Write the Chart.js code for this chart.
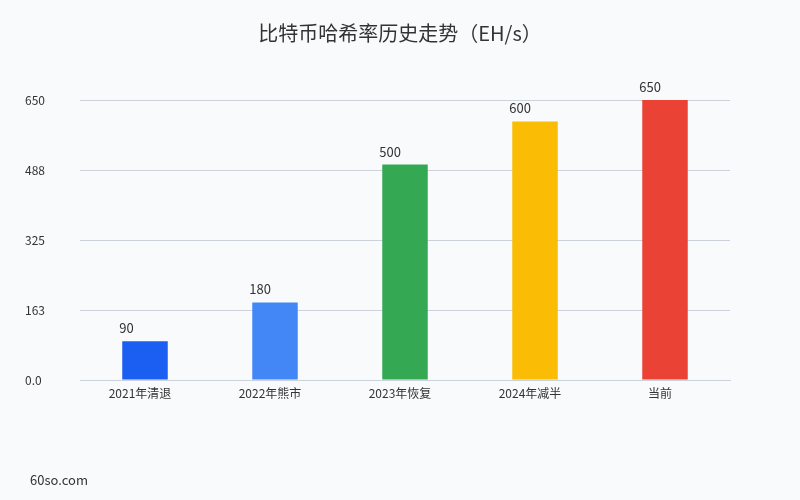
<!DOCTYPE html>
<html>
<head>
<meta charset="utf-8">
<script src="https://cdn.jsdelivr.net/npm/chart.js@4"></script>
<style>
  html, body { margin:0; padding:0; background:#f8fafc; }
  #wrap { width:800px; height:500px; position:relative; }
</style>
</head>
<body>
<div id="wrap"><canvas id="hashChart" width="800" height="500"></canvas></div>
<script>
const labels = ["2021年清退", "2022年熊市", "2023年恢复", "2024年减半", "当前"];
const hashRate = [90, 180, 500, 600, 650];
const barColors = ["#1a5ef2", "#4287f5", "#34a853", "#fbbc05", "#ea4335"];
const yTicks = [0, 162.5, 325, 487.5, 650];

const FONT = "'Noto Sans CJK SC', 'Noto Sans', sans-serif";

// value labels above each bar (start just left of the bar's left edge)
const valueLabels = {
  id: "valueLabels",
  afterDatasetsDraw(chart){
    const ctx = chart.ctx;
    const meta = chart.getDatasetMeta(0);
    ctx.save();
    ctx.font = "13px " + FONT;
    ctx.fillStyle = "#333";
    ctx.textAlign = "left";
    ctx.textBaseline = "middle";
    meta.data.forEach((bar, i) => {
      ctx.fillText(String(hashRate[i]), bar.x - bar.width / 2 - 3, bar.y - 13);
    });
    ctx.restore();
  }
};

// title centred on the page + footer text
const pageText = {
  id: "pageText",
  afterDraw(chart){
    const ctx = chart.ctx;
    ctx.save();
    ctx.fillStyle = "#333";
    ctx.textBaseline = "middle";
    ctx.font = "20px " + FONT;
    ctx.textAlign = "center";
    ctx.fillText("比特币哈希率历史走势（EH/s）", 400, 33);
    ctx.font = "13px " + FONT;
    ctx.textAlign = "left";
    ctx.fillText("60so.com", 30, 480);
    ctx.restore();
  }
};

new Chart(document.getElementById("hashChart"), {
  type: "bar",
  data: {
    labels,
    datasets: [{
      label: "哈希率",
      data: hashRate,
      backgroundColor: barColors,
      borderWidth: 0,
      categoryPercentage: 1,
      barPercentage: 0.35
    }]
  },
  options: {
    responsive: false,
    animation: false,
    layout: { padding: { left: 25, right: 70, top: 100, bottom: 90 } },
    plugins: {
      legend: { display: false },
      tooltip: { enabled: false },
      title: { display: false }
    },
    scales: {
      x: {
        grid: { display: false, drawTicks: false },
        border: { display: true, color: "#ccd2dc" },
        ticks: { color: "#333", font: { family: FONT, size: 12 }, padding: 6, labelOffset: -5 },
        afterFit(s){ s.height = 30; }
      },
      y: {
        min: 0,
        max: 650,
        border: { display: false },
        grid: { color: "#ccd2dc", drawTicks: false },
        afterBuildTicks(s){ s.ticks = yTicks.map(v => ({ value: v })); },
        ticks: {
          color: "#333",
          crossAlign: "far",
          font: { family: FONT, size: 12 },
          callback: (v) => v === 0 ? "0.0" : String(Math.round(v))
        },
        afterFit(s){ s.width = 55; }
      }
    }
  },
  plugins: [valueLabels, pageText]
});
</script>
</body>
</html>
